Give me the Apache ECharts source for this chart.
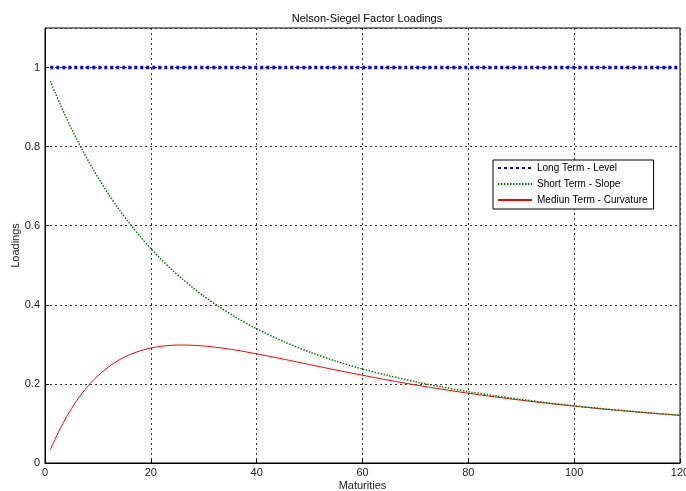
<!DOCTYPE html>
<html><head><meta charset="utf-8">
<script src="https://cdn.jsdelivr.net/npm/echarts@6/dist/echarts.min.js"></script>
<style>html,body{margin:0;padding:0;background:#fff}#c{width:686px;height:491px}</style>
</head><body><div id="c"></div>
<script>
const maturities = [1,2,3,4,5,6,7,8,9,10,12,14,16,18,20,22,24,26,28,30,33,36,40,45,50,55,60,65,70,75,80,85,90,95,100,105,110,115,120];
const levelVals = [1,1,1,1,1,1,1,1,1,1,1,1,1,1,1,1,1,1,1,1,1,1,1,1,1,1,1,1,1,1,1,1,1,1,1,1,1,1,1];
const slopeVals = [0.9662,0.9341,0.9033,0.8739,0.8457,0.8189,0.7931,0.7685,0.7449,0.7223,0.6800,0.6412,0.6055,0.5726,0.5423,0.5144,0.4886,0.4647,0.4426,0.4221,0.3941,0.3690,0.3394,0.3076,0.2807,0.2576,0.2377,0.2205,0.2054,0.1921,0.1804,0.1700,0.1607,0.1523,0.1448,0.1379,0.1317,0.1260,0.1207];
const curvVals = [0.0329,0.0630,0.0903,0.1151,0.1375,0.1579,0.1762,0.1927,0.2075,0.2207,0.2431,0.2606,0.2740,0.2838,0.2907,0.2953,0.2977,0.2984,0.2977,0.2959,0.2915,0.2856,0.2761,0.2628,0.2489,0.2351,0.2218,0.2092,0.1974,0.1865,0.1764,0.1672,0.1587,0.1509,0.1438,0.1372,0.1312,0.1256,0.1205];
const seriesNames = ['Long Term - Level','Short Term - Slope','Mediun Term - Curvature'];

const pair = (v) => maturities.map((m, i) => [m, v[i]]);
const font = 'Liberation Sans, Arial, sans-serif';
const chart = echarts.init(document.getElementById('c'), null, {renderer: 'canvas'});
chart.setOption({
  animation: false,
  backgroundColor: '#fff',
  title: {text: 'Nelson-Siegel Factor Loadings', left: 362, top: 8, textAlign: 'center',
    textStyle: {fontFamily: font, fontSize: 11, fontWeight: 'normal', color: '#000'}},
  grid: {left: 45, right: 6, top: 28, bottom: 28, show: true, borderColor: '#000', borderWidth: 1,
    backgroundColor: '#fff', outerBoundsMode: 'none', containLabel: false},
  legend: {
    left: 493, top: 160, orient: 'vertical', itemGap: 6, itemWidth: 34, itemHeight: 11,
    padding: [3, 6, 4, 4], borderColor: '#000', borderWidth: 1, backgroundColor: '#fff',
    itemStyle: {color: 'transparent', borderWidth: 0, opacity: 0},
    textStyle: {fontFamily: font, fontSize: 10, color: '#000'},
    data: seriesNames
  },
  xAxis: {
    type: 'value', min: 0, max: 120, interval: 20, name: 'Maturities', nameLocation: 'middle', nameGap: 17,
    nameMoveOverlap: false,
    nameTextStyle: {fontFamily: font, fontSize: 11, color: '#222'},
    axisLine: {show: true, lineStyle: {color: '#000'}},
    axisTick: {show: true, inside: true, length: 4, lineStyle: {color: '#000'}},
    axisLabel: {fontFamily: font, fontSize: 11, color: '#222', margin: 4},
    splitLine: {show: true, lineStyle: {color: '#333', type: [2, 3], width: 1}}
  },
  yAxis: {
    type: 'value', min: 0, max: 1.1, interval: 0.2, name: 'Loadings', nameLocation: 'middle', nameGap: 24,
    nameMoveOverlap: false,
    nameTextStyle: {fontFamily: font, fontSize: 11, color: '#222'},
    axisLine: {show: true, lineStyle: {color: '#000'}},
    axisTick: {show: true, inside: true, length: 4, lineStyle: {color: '#000'}},
    axisLabel: {fontFamily: font, fontSize: 11, color: '#222', margin: 5, showMaxLabel: false,
      formatter: v => String(Math.round(v * 10) / 10)},
    splitLine: {show: true, lineStyle: {color: '#333', type: [2, 3], width: 1}}
  },
  series: [
    {name: seriesNames[0], type: 'line', data: pair(levelVals), symbol: 'none', z: 5,
      lineStyle: {color: '#0000ff', width: 3.5, type: [3, 3]}, itemStyle: {color: '#0000ff'}},
    {name: seriesNames[1], type: 'line', data: pair(slopeVals), symbol: 'none', smooth: 0.3, z: 4,
      lineStyle: {color: '#008000', width: 1.5, type: [1.5, 1.5]}, itemStyle: {color: '#008000'}},
    {name: seriesNames[2], type: 'line', data: pair(curvVals), symbol: 'none', smooth: 0.3, z: 3,
      lineStyle: {color: '#ff0000', width: 1, type: 'solid'}, itemStyle: {color: '#ff0000'}}
  ]
});
</script></body></html>
